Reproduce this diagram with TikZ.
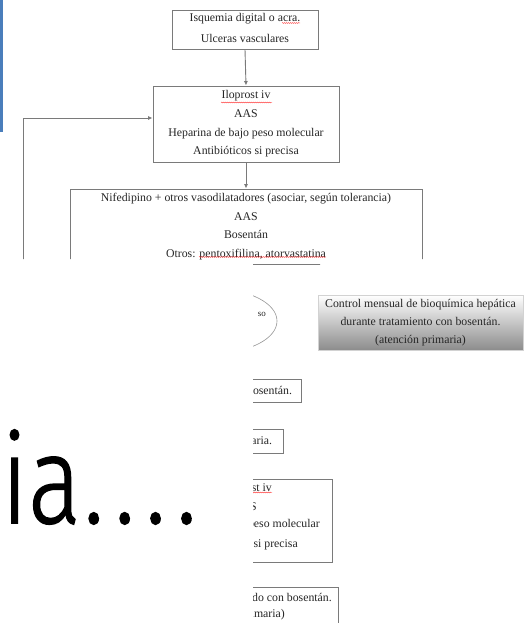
\documentclass[tikz,border=0pt]{standalone}
\usepackage{fontspec}
\setmainfont{Liberation Serif}
\newfontfamily\bigfont{Fira Sans Light}[FakeBold=1.2]
\usetikzlibrary{arrows.meta,calc,decorations.pathmorphing}
\definecolor{barblue}{HTML}{4A7EBB}
\definecolor{linegray}{HTML}{7A7A7A}
\tikzset{
  box/.style={draw=linegray, line width=0.9pt, fill=white, inner sep=0pt, align=center,
    text=black!85, font=\fontsize{11.8}{18.6}\selectfont},
  txt/.style={inner sep=0pt, text=black!85, font=\fontsize{11.8}{18.6}\selectfont},
  conn/.style={draw=linegray, line width=0.9pt, -{Latex[length=4.5pt,width=4pt]}},
  spell/.style={draw=red!85, line width=0.4pt, decorate, decoration={snake, amplitude=0.45pt, segment length=2pt}}
}
\begin{document}
\begin{tikzpicture}[x=1pt,y=-1pt]
\useasboundingbox (0,0) rectangle (524,623);
\fill[barblue] (0,0) rectangle (3,132);
% upper layer
\begin{scope}
\clip (0,0) -- (524,0) -- (524,259) -- (320,259) -- (320,270) -- (253,270) -- (253,259) -- (0,259) -- cycle;
\node[box, minimum width=146, minimum height=39] (b1) at (245,29.5) {};
\node[txt, align=center, font=\fontsize{11.8}{21}\selectfont] (b1t) at (245,28) {Isquemia digital o acra.\\Ulceras vasculares};
\node[box, minimum width=186, minimum height=76] (b2) at (246,124) {Iloprost iv\\AAS\\Heparina de bajo peso molecular\\Antibióticos si precisa};
\node[box, minimum width=352, minimum height=75] (b3) at (246,226.5) {Nifedipino + otros vasodilatadores (asociar, según tolerancia)\\AAS\\Bosentán\\Otros: pentoxifilina, atorvastatina};
\coordinate (fb) at (23,265);
\draw[conn] (b1.south) -- (b2.north);
\draw[conn] (b2.south) -- (b3.north);
\draw[conn] (fb) |- ($(b2.west)+(0,-6)$);
\draw[spell] (282,23) -- (300,23);
\draw[spell] (221,102.5) -- (272,102.5);
\draw[spell] (199,257) -- (326,257);
\end{scope}
% lower right layer
\begin{scope}
\clip (253,259) rectangle (524,623);
\draw[linegray!80, line width=0.6pt] (215,321) ellipse [x radius=62, y radius=32];
\node[txt, anchor=east, font=\fontsize{9}{11}\selectfont] (so) at (266,314) {so};
\node[draw=gray!35, line width=0.5pt, top color=white, bottom color=black!45, inner sep=0pt,
  minimum width=205, minimum height=55, align=center, text=black!85,
  font=\fontsize{11.8}{18}\selectfont] (grad) at (420.5,322.5)
  {Control mensual de bioquímica hepática\\durante tratamiento con bosentán.\\(atención primaria)};
\node[box, minimum width=120, minimum height=23, text width=102, align=right] (b4) at (241,390.5) {bosentán.};
\node[box, minimum width=90, minimum height=24, text width=68, align=right] (b5) at (238,441) {aria.};
\node[box, minimum width=174, minimum height=83] (b6) at (245,520.5) {};
\node[txt, anchor=east] (b6a) at (272,488) {ost iv};
\node[txt, anchor=east] (b6b) at (257,507) {AS};
\node[txt, anchor=east] (b6c) at (320,525) {peso molecular};
\node[txt, anchor=east] (b6d) at (298,545) {si precisa};
\draw[spell] (250,492.5) -- (272,492.5);
\node[box, minimum width=200, minimum height=60] (b7) at (238,617) {};
\node[txt, anchor=east] (b7a) at (332,597) {tratado con bosentán.};
\node[txt, anchor=east] (b7b) at (285,615) {primaria)};
\end{scope}
% overlay text
\node[inner sep=0pt, anchor=base west, xscale=0.8, font=\bigfont\fontsize{124}{130}\selectfont] (ia) at (1,523) {ia\kern3pt.\kern13pt.\kern13pt.\kern13pt.};
\end{tikzpicture}
\end{document}
